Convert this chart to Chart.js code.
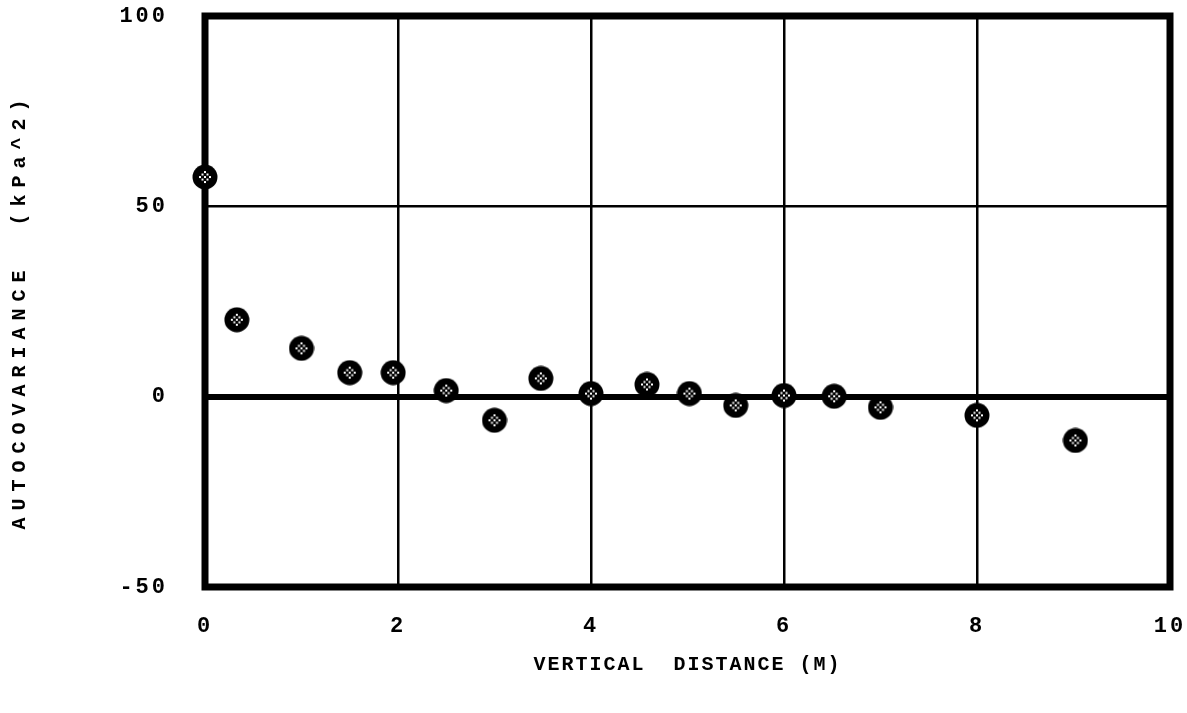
<!DOCTYPE html>
<html>
<head>
<meta charset="utf-8">
<script src="https://cdn.jsdelivr.net/npm/chart.js@4.4.1/dist/chart.umd.min.js"></script>
<style>
  html, body { margin: 0; padding: 0; background: #fff; }
  #wrap { width: 1187px; height: 713px; }
</style>
</head>
<body>
<div id="wrap"><canvas id="grafico" width="1187" height="713"></canvas></div>
<script>
// distancia vertical (m) e autocovariancia (kPa^2)
const distancias = [0, 0.33, 1.0, 1.5, 1.95, 2.5, 3.0, 3.48, 4.0, 4.58, 5.02, 5.5, 6.0, 6.52, 7.0, 8.0, 9.02];
const autocov = [57.7, 20.2, 12.7, 6.3, 6.3, 1.6, -6.2, 4.8, 0.8, 3.2, 0.8, -2.3, 0.3, 0.1, -2.8, -4.9, -11.5];

const xTicks = [0, 2, 4, 6, 8, 10];
const yTicks = [-50, 0, 50, 100];

const fonte = "'Liberation Mono', 'Courier New', monospace";

// marcador: circulo preto com pontilhado branco no meio
function criarMarcador() {
  const c = document.createElement("canvas");
  c.width = 26;
  c.height = 26;
  const g = c.getContext("2d");
  g.fillStyle = "#000";
  g.beginPath();
  g.arc(13, 13, 12.5, 0, Math.PI * 2);
  g.fill();
  g.fillStyle = "#fff";
  for (let i = -2; i <= 2; i++) {
    for (let j = -2; j <= 2; j++) {
      if ((i + j) % 2 === 0 && Math.abs(i) + Math.abs(j) <= 3) {
        g.fillRect(12 + i * 2.5, 12 + j * 2.5, 2, 2);
      }
    }
  }
  return c;
}

// titulo do eixo com espacamento proprio entre as letras
function espacarTitulo(scale, px) {
  if (!scale || scale._espacado) return;
  const original = scale.drawTitle.bind(scale);
  scale.drawTitle = function () {
    const antes = this.ctx.letterSpacing;
    this.ctx.letterSpacing = px;
    original();
    this.ctx.letterSpacing = antes;
  };
  scale._espacado = true;
}

// espacamento das letras (fonte tipo maquina de escrever)
const espacamento = {
  id: "espacamento",
  beforeUpdate(chart) { chart.ctx.letterSpacing = "3px"; },
  beforeDraw(chart) { chart.ctx.letterSpacing = "3px"; },
  afterLayout(chart) {
    espacarTitulo(chart.scales.x, "2px");
    espacarTitulo(chart.scales.y, "7px");
  },
};

// moldura grossa em volta da area do grafico
const moldura = {
  id: "moldura",
  beforeDatasetsDraw(chart) {
    const { ctx, chartArea: a } = chart;
    ctx.save();
    ctx.strokeStyle = "#000";
    ctx.lineWidth = 7;
    ctx.strokeRect(a.left, a.top, a.right - a.left, a.bottom - a.top);
    ctx.restore();
  },
};

const ctx = document.getElementById("grafico");
new Chart(ctx, {
  type: "scatter",
  data: {
    datasets: [
      {
        data: distancias.map((d, i) => ({ x: d, y: autocov[i] })),
        pointStyle: criarMarcador(),
        pointRadius: 13,
        pointHoverRadius: 13,
        clip: false,
      },
    ],
  },
  options: {
    responsive: false,
    animation: false,
    devicePixelRatio: 1,
    layout: { autoPadding: false, padding: { top: 16, right: 17, left: 0, bottom: 0 } },
    plugins: { legend: { display: false }, tooltip: { enabled: false } },
    scales: {
      x: {
        type: "linear",
        min: 0,
        max: 10,
        afterBuildTicks: (s) => { s.ticks = xTicks.map((v) => ({ value: v })); },
        afterFit: (s) => {
          s.height = 126;
          s.paddingLeft = 0;
          s.paddingRight = 0;
        },
        grid: { color: "#000", lineWidth: 2.5, drawTicks: false },
        border: { display: false },
        ticks: { color: "#000", padding: 26, font: { family: fonte, size: 22, weight: "bold" } },
        title: {
          display: true,
          text: "VERTICAL  DISTANCE (M)",
          color: "#000",
          padding: { top: 4, bottom: 36 },
          font: { family: fonte, size: 20, weight: "bold" },
        },
      },
      y: {
        type: "linear",
        min: -50,
        max: 100,
        afterBuildTicks: (s) => { s.ticks = yTicks.map((v) => ({ value: v })); },
        afterFit: (s) => {
          s.width = 205;
          s.paddingTop = 0;
          s.paddingBottom = 0;
        },
        grid: {
          color: "#000",
          lineWidth: (c) => (c.tick && c.tick.value === 0 ? 6 : 2.5),
          drawTicks: false,
        },
        border: { display: false },
        ticks: { color: "#000", padding: 37, font: { family: fonte, size: 22, weight: "bold" } },
        title: {
          display: true,
          text: "AUTOCOVARIANCE  (kPa^2) ",
          color: "#000",
          padding: { top: 8, bottom: 0 },
          font: { family: fonte, size: 20, weight: "bold" },
        },
      },
    },
  },
  plugins: [espacamento, moldura],
});
</script>
</body>
</html>
